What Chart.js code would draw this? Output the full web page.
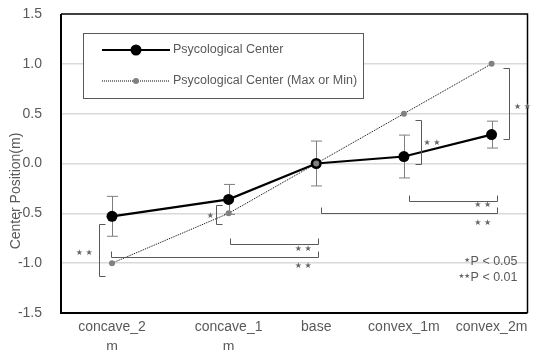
<!DOCTYPE html>
<html><head><meta charset="utf-8">
<script src="https://cdn.jsdelivr.net/npm/chart.js@4.4.0/dist/chart.umd.min.js"></script>
<style>html,body{margin:0;padding:0;background:#fff}</style>
</head><body>
<canvas id="c" width="533" height="350"></canvas>
<script>
// ---- data ----
const categories = [["concave_2","m"],["concave_1","m"],"base","convex_1m","convex_2m"];
const categoryPos = [-2.33, -1, 0, 1, 2];           // horizontal position of each category (axis units)
const centerValues = [-0.53, -0.36, 0.0, 0.07, 0.29];
const centerErrors = [0.20, 0.15, 0.225, 0.215, 0.135];
const maxMinValues = [-1.0, -0.5, 0.0, 0.5, 1.0];
const yTicks = [-1.5, -1.0, -0.5, 0.0, 0.5, 1.0, 1.5];
const seriesNames = ["Psycological Center", "Psycological Center (Max or Min)"];
const yTitle = "Center Position(m)";
const pNotes = ["P < 0.05", "P < 0.01"];
const pStars = ["★", "★★"];
// significance brackets (axis units)
const vBrackets = [
  {x:2.203, y1:0.955, y2:0.246, dir:-1, label:"★ ★", lx:2.255, ly:0.567, align:"left"},
  {x:1.193, y1:0.436, y2:-0.005, dir:-1, label:"★ ★", lx:1.224, ly:0.208, align:"left"},
  {x:-1.146, y1:-0.416, y2:-0.607, dir:1, label:"★", lx:-1.209, ly:-0.527, align:"center"},
  {x:-2.479, y1:-0.61, y2:-1.129, dir:1, label:"★ ★", lx:-2.646, ly:-0.898, align:"center"}
];
const hBrackets = [
  {x1:-0.983, x2:0.023, y:-0.807, label:"★ ★", lx:-0.149, ly:-0.861},
  {x1:-2.336, x2:0.023, y:-0.941, label:"★ ★", lx:-0.149, ly:-1.028},
  {x1:1.059, x2:2.067, y:-0.376, label:"★ ★", lx:1.899, ly:-0.42},
  {x1:0.052, x2:2.067, y:-0.499, label:"★ ★", lx:1.899, ly:-0.60}
];

const FONT = "'Liberation Sans', Arial, sans-serif";
const TXT = "#595959";

const framePlugin = {
  id:'frame',
  beforeDatasetsDraw(chart){
    const {ctx, chartArea:a} = chart;
    const xs = chart.scales.x, ys = chart.scales.y;
    ctx.save();
    // error bars
    ctx.strokeStyle = '#7f7f7f'; ctx.lineWidth = 1;
    categoryPos.forEach((p,i)=>{
      const x = Math.round(xs.getPixelForValue(p)) + 0.5;
      const yt = ys.getPixelForValue(centerValues[i] + centerErrors[i]);
      const yb = ys.getPixelForValue(centerValues[i] - centerErrors[i]);
      ctx.beginPath();
      ctx.moveTo(x, yt); ctx.lineTo(x, yb);
      ctx.moveTo(x-5.5, yt); ctx.lineTo(x+5.5, yt);
      ctx.moveTo(x-5.5, yb); ctx.lineTo(x+5.5, yb);
      ctx.stroke();
    });
    // frame
    ctx.strokeStyle = '#000';
    ctx.lineWidth = 1.5;
    ctx.beginPath();
    ctx.moveTo(a.left, a.top); ctx.lineTo(a.right, a.top); ctx.lineTo(a.right, a.bottom);
    ctx.stroke();
    ctx.lineWidth = 2;
    ctx.beginPath();
    ctx.moveTo(a.left, a.top); ctx.lineTo(a.left, a.bottom); ctx.lineTo(a.right, a.bottom);
    ctx.stroke();
    ctx.restore();
  },
  afterDatasetsDraw(chart){
    const {ctx, chartArea:a} = chart;
    const xs = chart.scales.x, ys = chart.scales.y;
    ctx.save();
    ctx.strokeStyle = '#595959'; ctx.lineWidth = 1;
    ctx.fillStyle = '#666666';
    ctx.font = "8px 'DejaVu Sans', sans-serif";
    ctx.textBaseline = 'middle';
    vBrackets.forEach(b=>{
      const x = Math.round(xs.getPixelForValue(b.x)) + 0.5;
      const y1 = Math.round(ys.getPixelForValue(b.y1)) + 0.5;
      const y2 = Math.round(ys.getPixelForValue(b.y2)) + 0.5;
      ctx.beginPath();
      ctx.moveTo(x + 6*b.dir, y1); ctx.lineTo(x, y1); ctx.lineTo(x, y2); ctx.lineTo(x + 6*b.dir, y2);
      ctx.stroke();
      ctx.textAlign = b.align;
      ctx.fillText(b.label, xs.getPixelForValue(b.lx), ys.getPixelForValue(b.ly));
    });
    hBrackets.forEach(b=>{
      const x1 = Math.round(xs.getPixelForValue(b.x1)) + 0.5;
      const x2 = Math.round(xs.getPixelForValue(b.x2)) + 0.5;
      const y = Math.round(ys.getPixelForValue(b.y)) + 0.5;
      ctx.beginPath();
      ctx.moveTo(x1, y-6); ctx.lineTo(x1, y); ctx.lineTo(x2, y); ctx.lineTo(x2, y-6);
      ctx.stroke();
      ctx.textAlign = 'center';
      ctx.fillText(b.label, xs.getPixelForValue(b.lx), ys.getPixelForValue(b.ly));
    });
    // p-value notes
    const rx = a.right - 10;
    [262, 278].forEach((yy, i)=>{
      ctx.font = "12.5px " + FONT;
      ctx.textAlign = 'right'; ctx.fillStyle = TXT;
      ctx.fillText(pNotes[i], rx, yy);
      const w = ctx.measureText(pNotes[i]).width;
      ctx.font = "6.5px 'DejaVu Sans', sans-serif";
      ctx.fillStyle = '#666666';
      ctx.fillText(pStars[i], rx - w - 0.5, yy - 2);
    });
    ctx.restore();
  },
  afterDraw(chart){
    const {ctx} = chart;
    ctx.save();
    // y title
    ctx.translate(16.5, 191);
    ctx.rotate(-Math.PI/2);
    ctx.font = "14px " + FONT;
    ctx.fillStyle = TXT;
    ctx.textAlign = 'center'; ctx.textBaseline = 'middle';
    ctx.fillText(yTitle, 0, 0);
    ctx.restore();
    // legend
    ctx.save();
    ctx.fillStyle = '#fff';
    ctx.fillRect(83.5, 33.5, 280, 65);
    ctx.strokeStyle = '#595959'; ctx.lineWidth = 1;
    ctx.strokeRect(83.5, 33.5, 280, 65);
    const ds = chart.data.datasets;
    const rows = [50, 81];
    ds.forEach((d, i)=>{
      const y = rows[i];
      ctx.strokeStyle = d.borderColor; ctx.lineWidth = d.borderWidth;
      ctx.setLineDash(d.borderDash || []);
      ctx.beginPath(); ctx.moveTo(102, y); ctx.lineTo(170, y); ctx.stroke();
      ctx.setLineDash([]);
      ctx.fillStyle = d.pointBackgroundColor;
      ctx.beginPath(); ctx.arc(136, y, d.pointRadius, 0, Math.PI*2); ctx.fill();
      ctx.fillStyle = TXT;
      ctx.font = "12.5px " + FONT;
      ctx.textAlign = 'left'; ctx.textBaseline = 'middle';
      ctx.fillText(d.label, 173, y);
    });
    ctx.restore();
  }
};

new Chart(document.getElementById('c').getContext('2d'), {
  type: 'line',
  data: {
    datasets: [
      {
        label: seriesNames[0],
        data: categoryPos.map((x,i)=>({x, y:centerValues[i]})),
        borderColor:'#000', backgroundColor:'#000', borderWidth:2.2,
        pointRadius:5.5, pointBackgroundColor:'#000', pointBorderColor:'#000', pointBorderWidth:0,
        tension:0, order:2
      },
      {
        label: seriesNames[1],
        data: categoryPos.map((x,i)=>({x, y:maxMinValues[i]})),
        borderColor:'#000', backgroundColor:'#808080', borderWidth:1, borderDash:[1,1],
        pointRadius:3, pointBackgroundColor:'#808080', pointBorderColor:'#808080', pointBorderWidth:0,
        tension:0, order:1
      }
    ]
  },
  options: {
    responsive:false, animation:false, devicePixelRatio:1,
    layout:{padding:{top:14, right:1, left:0, bottom:0}},
    plugins:{legend:{display:false}, tooltip:{enabled:false}},
    scales:{
      x:{
        type:'linear', min:-2.912, max:2.41,
        grid:{display:false, drawTicks:false}, border:{display:false},
        afterBuildTicks(s){ s.ticks = categoryPos.map(v=>({value:v})); },
        afterFit(s){ s.height = 37; s.paddingLeft = 0; s.paddingRight = 0; },
        ticks:{autoSkip:false, maxRotation:0, minRotation:0, padding:4, color:TXT,
          font:{family:FONT, size:14, lineHeight:1.43},
          callback:(v,i)=>categories[i]}
      },
      y:{
        min:-1.5, max:1.5,
        afterBuildTicks(s){ s.ticks = yTicks.map(v=>({value:v})); },
        afterFit(s){ s.width = 61; s.paddingTop = 0; s.paddingBottom = 0; },
        border:{display:false},
        grid:{drawTicks:false, lineWidth:1.5,
          color:c=> (Math.abs(c.tick.value) === 1.5 ? 'rgba(0,0,0,0)' : '#d9d9d9')},
        ticks:{padding:19, color:TXT, font:{family:FONT, size:14},
          callback:v=>Number(v).toFixed(1)}
      }
    }
  },
  plugins:[framePlugin]
});
</script>
</body></html>
